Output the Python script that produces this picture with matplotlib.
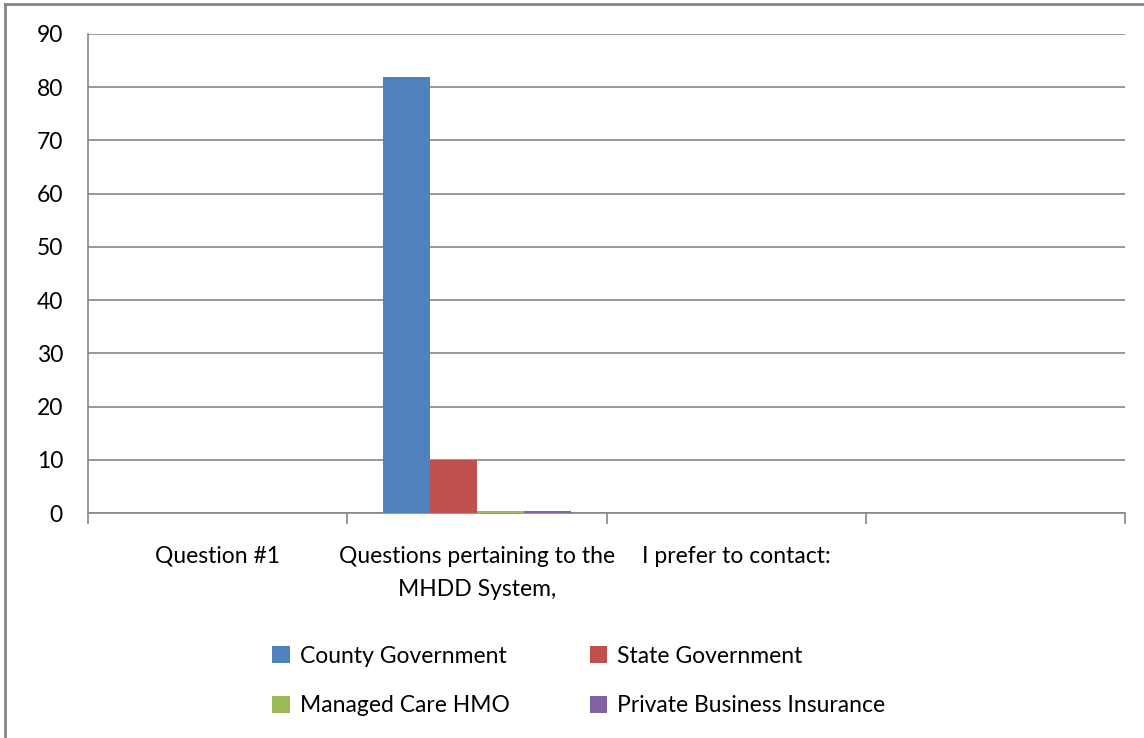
import matplotlib
matplotlib.use("Agg")
import matplotlib.pyplot as plt
import numpy as np
from matplotlib.lines import Line2D

categories = ["Question #1", "Questions pertaining to the\nMHDD System,", "I prefer to contact:", ""]
series_names = ["County Government", "State Government", "Managed Care HMO", "Private Business Insurance"]
county = [0, 82, 0, 0]
state = [0, 10, 0, 0]
managed = [0, 0.3, 0, 0]
private = [0, 0.3, 0, 0]
colors = ["#4F81BD", "#C0504D", "#9BBB59", "#8064A2"]
yticks = [0, 10, 20, 30, 40, 50, 60, 70, 80, 90]

plt.rcParams['font.family'] = ['Lato', 'DejaVu Sans']
FS = 16.5

fig = plt.figure(figsize=(11.44, 7.38), dpi=100)
ax = fig.add_axes([88/1144, 1-513/738, (1125-88)/1144, (513-34)/738])

x = np.arange(len(categories))
bw = 1/5.5
all_series = [county, state, managed, private]
handles = []
for i, (vals, name, c) in enumerate(zip(all_series, series_names, colors)):
    h = ax.bar(x + (i-1.5)*bw, vals, width=bw, color=c, label=name, zorder=3)
    handles.append(h)

ax.set_xlim(-0.5, len(categories)-0.5)
ax.set_ylim(0, 90)
ax.set_yticks(yticks)
ax.yaxis.grid(True, color="#868686", linewidth=1.2, zorder=0)
ax.tick_params(axis='y', length=0, labelsize=FS, pad=18)
for s in ['top', 'right']:
    ax.spines[s].set_visible(False)
ax.spines['left'].set_color("#868686")
ax.spines['left'].set_linewidth(1.2)
ax.spines['bottom'].set_color("#868686")
ax.spines['bottom'].set_linewidth(1.2)

ax.set_xticks(np.arange(len(categories)+1) - 0.5)
ax.set_xticklabels([])
ax.tick_params(axis='x', length=8, color="#868686", width=1.2, direction='out')
ax.set_xticks(x, minor=True)
ax.set_xticklabels(categories, minor=True, fontsize=FS, linespacing=1.7)
ax.tick_params(axis='x', which='minor', length=0, pad=23.5)

order = [0, 2, 1, 3]
fig.legend([handles[i] for i in order], [series_names[i] for i in order],
           loc='center', bbox_to_anchor=(579/1144, 1-681/738), ncol=2,
           frameon=False, fontsize=FS, handlelength=0.75, handleheight=0.75,
           handletextpad=0.45, columnspacing=3.5, labelspacing=1.25)

fig.add_artist(Line2D([5/1144, 5/1144], [0, 1-4/738], color="#868686", linewidth=2))
fig.add_artist(Line2D([5/1144, 1], [1-4/738, 1-4/738], color="#868686", linewidth=2))

fig.savefig("out.png", dpi=100)
